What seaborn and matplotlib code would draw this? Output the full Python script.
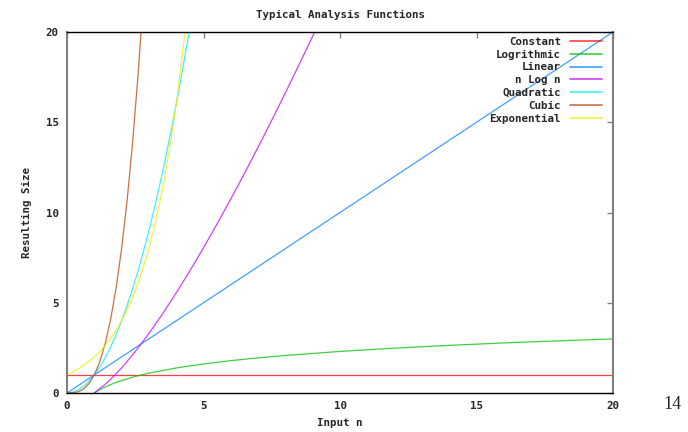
import pandas as pd
import seaborn as sns
import matplotlib.pyplot as plt

# Function values (y clipped at 20 by the axes)
const_x = [0, 20]
const_y = [1, 1]

log_x = [1, 1.25, 1.5, 1.75, 2, 2.5, 3, 4, 5, 6, 7, 8, 10, 12, 14, 16, 18, 20]
log_y = [0, 0.223, 0.405, 0.560, 0.693, 0.916, 1.099, 1.386, 1.609, 1.792,
         1.946, 2.079, 2.303, 2.485, 2.639, 2.773, 2.890, 2.996]

lin_x = [0, 5, 10, 15, 20]
lin_y = [0, 5, 10, 15, 20]

nlogn_x = [1, 1.5, 2, 2.5, 3, 3.5, 4, 4.5, 5, 5.5, 6, 6.5, 7, 7.5, 8, 8.5, 9, 9.5]
nlogn_y = [0, 0.608, 1.386, 2.291, 3.296, 4.385, 5.545, 6.768, 8.047, 9.376,
           10.751, 12.167, 13.621, 15.112, 16.636, 18.190, 19.775, 21.387]

quad_x = [0, 0.2, 0.4, 0.6, 0.8, 1, 1.2, 1.4, 1.6, 1.8, 2, 2.2, 2.4, 2.6,
          2.8, 3, 3.2, 3.4, 3.6, 3.8, 4, 4.2, 4.4, 4.6]
quad_y = [0, 0.04, 0.16, 0.36, 0.64, 1, 1.44, 1.96, 2.56, 3.24, 4, 4.84, 5.76,
          6.76, 7.84, 9, 10.24, 11.56, 12.96, 14.44, 16, 17.64, 19.36, 21.16]

cubic_x = [0, 0.2, 0.4, 0.6, 0.8, 1, 1.2, 1.4, 1.6, 1.8, 2, 2.2, 2.4, 2.6, 2.8]
cubic_y = [0, 0.008, 0.064, 0.216, 0.512, 1, 1.728, 2.744, 4.096, 5.832, 8,
           10.648, 13.824, 17.576, 21.952]

exp_x = [0, 0.2, 0.4, 0.6, 0.8, 1, 1.2, 1.4, 1.6, 1.8, 2, 2.2, 2.4, 2.6, 2.8,
         3, 3.2, 3.4, 3.6, 3.8, 4, 4.2, 4.4]
exp_y = [1, 1.149, 1.320, 1.516, 1.741, 2, 2.297, 2.639, 3.031, 3.482, 4,
         4.595, 5.278, 6.063, 6.964, 8, 9.190, 10.556, 12.126, 13.929, 16,
         18.379, 21.112]

labels = ["Constant", "Logrithmic", "Linear", "n Log n", "Quadratic", "Cubic", "Exponential"]
colors = ["#ff0000", "#00c000", "#0080ff", "#c000ff", "#00eeee", "#c04000", "#eeee00"]
series = [(const_x, const_y), (log_x, log_y), (lin_x, lin_y), (nlogn_x, nlogn_y),
          (quad_x, quad_y), (cubic_x, cubic_y), (exp_x, exp_y)]

frames = []
for lab, (xs, ys) in zip(labels, series):
    frames.append(pd.DataFrame({"n": xs, "size": ys, "func": lab}))
df = pd.concat(frames, ignore_index=True)

sns.set_style("white")
mono = {"family": "DejaVu Sans Mono", "weight": "bold", "size": 7.8}

fig = plt.figure(figsize=(6.88, 4.32), dpi=100)
ax = fig.add_axes([0.0974, 0.0903, 0.7936, 0.8356])

sns.lineplot(data=df, x="n", y="size", hue="func", hue_order=labels,
             palette=colors, sort=False, estimator=None, linewidth=0.9,
             alpha=0.75, ax=ax)

ax.set_xlim(0, 20)
ax.set_ylim(0, 20)
ax.set_xticks([0, 5, 10, 15, 20])
ax.set_yticks([0, 5, 10, 15, 20])
ax.tick_params(direction="in", length=4, width=1, color="#808080",
               top=True, right=True, pad=6)
for t in ax.get_xticklabels() + ax.get_yticklabels():
    t.set_fontproperties(mono)
    t.set_fontfamily("DejaVu Sans Mono")

for side in ["left", "right"]:
    ax.spines[side].set_color("#808080")
    ax.spines[side].set_linewidth(1.5)
for side in ["top", "bottom"]:
    ax.spines[side].set_color("black")
    ax.spines[side].set_linewidth(1.0)

ax.set_xlabel("Input n", fontdict=mono, labelpad=5)
ax.set_ylabel("Resulting Size", fontdict=mono, labelpad=10)
ax.set_title("Typical Analysis Functions", fontdict=mono, pad=10)

leg = ax.legend(loc="upper right", bbox_to_anchor=(0.98, 0.987),
                borderaxespad=0, borderpad=0, frameon=False, markerfirst=False,
                handlelength=3.0, handletextpad=0.8, labelspacing=0.26,
                prop={"family": "DejaVu Sans Mono", "weight": "bold", "size": 7.8})
for line in leg.get_lines():
    line.set_linewidth(1.2)
    line.set_alpha(0.75)

fig.text(0.977, 0.063, "14", family="Liberation Serif", fontsize=13,
         ha="center", va="center")

plt.savefig("out.png", dpi=100)
